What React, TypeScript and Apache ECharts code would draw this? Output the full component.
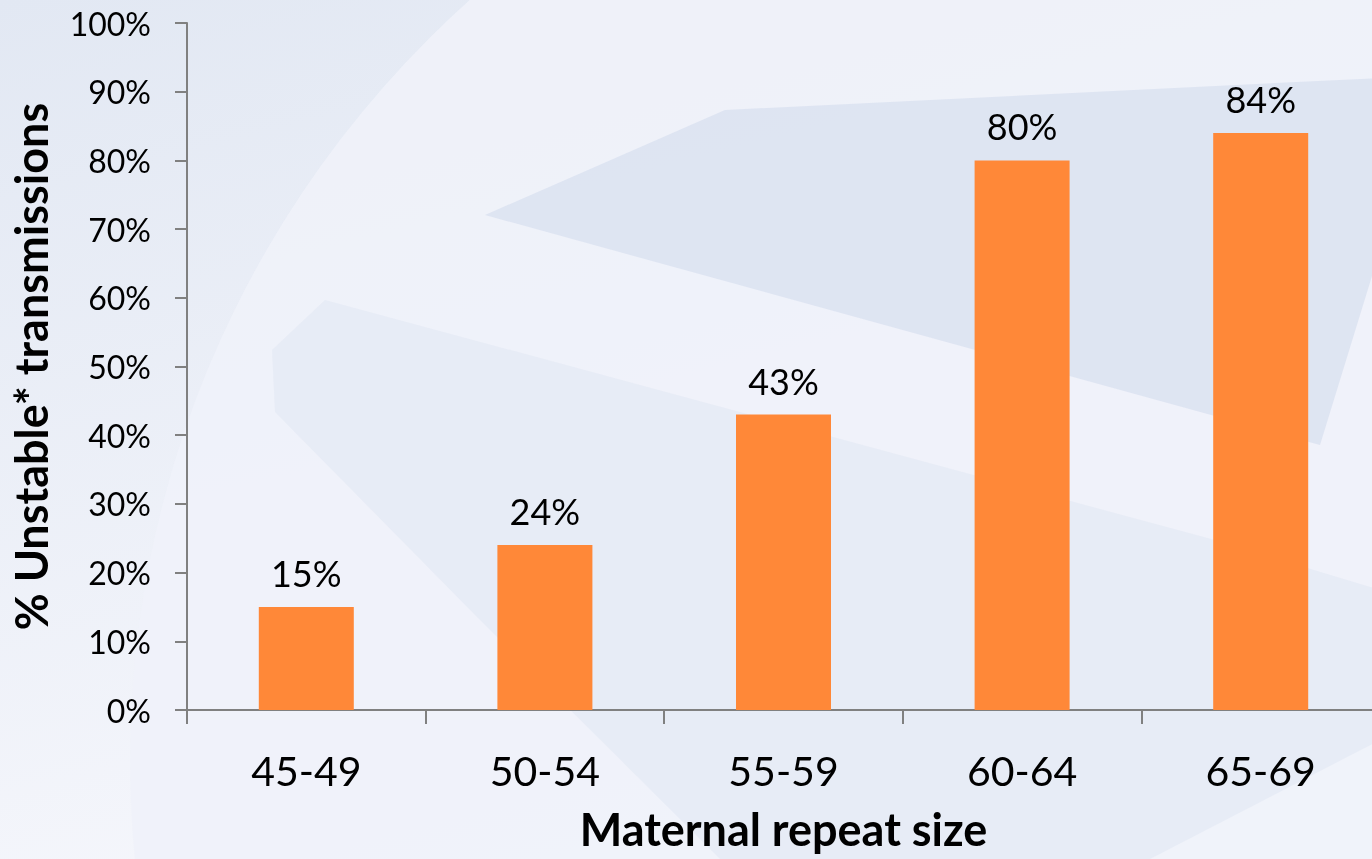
import React, { useEffect, useRef } from "react";
import * as echarts from "echarts";

// Maternal repeat size bins and the share of unstable transmissions in each
const categories = ["45-49", "50-54", "55-59", "60-64", "65-69"];
const unstablePct = [15, 24, 43, 80, 84];
const yTicks = { min: 0, max: 100, interval: 10 };

const FONT = "Lato, 'Noto Sans', sans-serif";

export default function App() {
  const ref = useRef<HTMLDivElement>(null);

  useEffect(() => {
    if (!ref.current) return;
    const chart = echarts.init(ref.current, undefined, { renderer: "svg" });

    chart.setOption({
      animation: false,
      graphic: [
        {
          type: "rect",
          z: -100,
          shape: { x: 0, y: 0, width: 1380, height: 859 },
          style: {
            fill: new echarts.graphic.LinearGradient(0, 0, 0.4, 1, [
              { offset: 0, color: "#E2E8F3" },
              { offset: 1, color: "#F6F7FC" },
            ]),
          },
        },
        {
          type: "circle",
          z: -99,
          shape: { cx: 1150, cy: 760, r: 1020 },
          style: { fill: "#EFF2F9", opacity: 0.9 },
        },
        {
          type: "polygon",
          z: -98,
          shape: {
            points: [
              [485, 215],
              [725, 110],
              [1380, 78],
              [1380, 250],
              [1320, 445],
            ],
          },
          style: { fill: "#D9E1F0", opacity: 0.8 },
        },
        {
          type: "polygon",
          z: -98,
          shape: {
            points: [
              [272, 350],
              [325, 300],
              [1215, 540],
              [1380, 590],
              [1380, 740],
              [1150, 859],
              [720, 859],
              [480, 620],
              [275, 412],
            ],
          },
          style: { fill: "#E4E9F4", opacity: 0.75 },
        },
      ],
      grid: { left: 187, right: 0, top: 23, bottom: 149, containLabel: false },
      xAxis: {
        type: "category",
        data: categories,
        name: "Maternal repeat size",
        nameLocation: "middle",
        nameGap: 96,
        nameTextStyle: {
          fontFamily: FONT,
          fontWeight: "bold",
          fontSize: 45,
          color: "#000",
        },
        axisLine: { lineStyle: { color: "#808080", width: 2 } },
        axisTick: { show: true, length: 14, lineStyle: { color: "#808080", width: 2 } },
        axisLabel: { fontFamily: FONT, fontSize: 41, color: "#000", margin: 40 },
      },
      yAxis: {
        type: "value",
        min: yTicks.min,
        max: yTicks.max,
        interval: yTicks.interval,
        name: "% Unstable* transmissions",
        nameLocation: "middle",
        nameRotate: 90,
        nameGap: 134,
        nameTextStyle: {
          fontFamily: FONT,
          fontWeight: "bold",
          fontSize: 45,
          color: "#000",
        },
        axisLine: { show: true, lineStyle: { color: "#808080", width: 2 } },
        axisTick: { show: true, length: 12, lineStyle: { color: "#808080", width: 2 } },
        splitLine: { show: false },
        axisLabel: {
          fontFamily: FONT,
          fontSize: 32,
          color: "#000",
          margin: 36,
          formatter: "{value}%",
        },
      },
      series: [
        {
          type: "bar",
          data: unstablePct,
          barWidth: 95,
          itemStyle: { color: "#FF8838" },
          label: {
            show: true,
            position: "top",
            distance: 16,
            fontFamily: FONT,
            fontSize: 36,
            color: "#000",
            formatter: "{c}%",
          },
        },
      ],
    });

    return () => chart.dispose();
  }, []);

  return (
    <div
      style={{
        position: "fixed",
        left: 0,
        top: 0,
        width: 1372,
        height: 859,
        overflow: "hidden",
      }}
    >
      <div ref={ref} style={{ width: 1380, height: 859 }} />
    </div>
  );
}
